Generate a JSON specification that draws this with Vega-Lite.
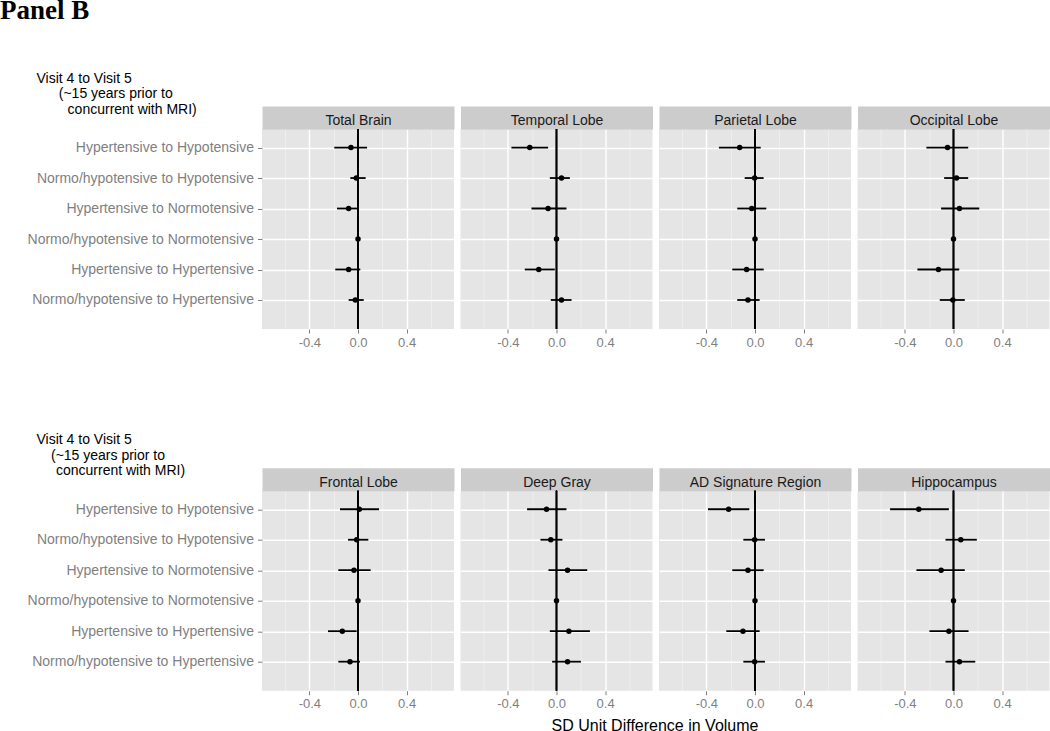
{
  "$schema": "https://vega.github.io/schema/vega-lite/v6.json",
  "background": "#ffffff",
  "padding": {"left": 0, "top": -4, "right": 0, "bottom": 0},
  "title": {"text": "Panel B", "anchor": "start", "frame": "group", "dx": -262, "offset": 25.3, "baseline": "alphabetic", "font": "Liberation Serif", "fontSize": 27, "fontWeight": "bold", "color": "#000000"},
  "config": {
    "font": "Liberation Sans",
    "view": {"fill": "#e5e5e5", "stroke": null},
    "axis": {"labelFont": "Liberation Sans", "titleFont": "Liberation Sans"}
  },
  "datasets": {
    "d": [
      {"region": "Total Brain", "row": "Hypertensive to Hypotensive", "est": -0.058, "lo": -0.195, "hi": 0.074},
      {"region": "Total Brain", "row": "Normo/hypotensive to Hypotensive", "est": -0.014, "lo": -0.063, "hi": 0.063},
      {"region": "Total Brain", "row": "Hypertensive to Normotensive", "est": -0.077, "lo": -0.173, "hi": 0.003},
      {"region": "Total Brain", "row": "Normo/hypotensive to Normotensive", "est": 0, "lo": null, "hi": null},
      {"region": "Total Brain", "row": "Hypertensive to Hypertensive", "est": -0.077, "lo": -0.187, "hi": 0.019},
      {"region": "Total Brain", "row": "Normo/hypotensive to Hypertensive", "est": -0.022, "lo": -0.077, "hi": 0.047},
      {"region": "Temporal Lobe", "row": "Hypertensive to Hypotensive", "est": -0.22, "lo": -0.371, "hi": -0.069},
      {"region": "Temporal Lobe", "row": "Normo/hypotensive to Hypotensive", "est": 0.041, "lo": -0.055, "hi": 0.11},
      {"region": "Temporal Lobe", "row": "Hypertensive to Normotensive", "est": -0.069, "lo": -0.206, "hi": 0.082},
      {"region": "Temporal Lobe", "row": "Normo/hypotensive to Normotensive", "est": 0, "lo": null, "hi": null},
      {"region": "Temporal Lobe", "row": "Hypertensive to Hypertensive", "est": -0.146, "lo": -0.261, "hi": -0.014},
      {"region": "Temporal Lobe", "row": "Normo/hypotensive to Hypertensive", "est": 0.041, "lo": -0.047, "hi": 0.124},
      {"region": "Parietal Lobe", "row": "Hypertensive to Hypotensive", "est": -0.126, "lo": -0.297, "hi": 0.047},
      {"region": "Parietal Lobe", "row": "Normo/hypotensive to Hypotensive", "est": -0.003, "lo": -0.085, "hi": 0.071},
      {"region": "Parietal Lobe", "row": "Hypertensive to Normotensive", "est": -0.027, "lo": -0.146, "hi": 0.093},
      {"region": "Parietal Lobe", "row": "Normo/hypotensive to Normotensive", "est": 0, "lo": null, "hi": null},
      {"region": "Parietal Lobe", "row": "Hypertensive to Hypertensive", "est": -0.069, "lo": -0.187, "hi": 0.071},
      {"region": "Parietal Lobe", "row": "Normo/hypotensive to Hypertensive", "est": -0.058, "lo": -0.146, "hi": 0.038},
      {"region": "Occipital Lobe", "row": "Hypertensive to Hypotensive", "est": -0.049, "lo": -0.223, "hi": 0.121},
      {"region": "Occipital Lobe", "row": "Normo/hypotensive to Hypotensive", "est": 0.025, "lo": -0.077, "hi": 0.121},
      {"region": "Occipital Lobe", "row": "Hypertensive to Normotensive", "est": 0.049, "lo": -0.102, "hi": 0.212},
      {"region": "Occipital Lobe", "row": "Normo/hypotensive to Normotensive", "est": 0, "lo": null, "hi": null},
      {"region": "Occipital Lobe", "row": "Hypertensive to Hypertensive", "est": -0.124, "lo": -0.297, "hi": 0.047},
      {"region": "Occipital Lobe", "row": "Normo/hypotensive to Hypertensive", "est": -0.005, "lo": -0.113, "hi": 0.093},
      {"region": "Frontal Lobe", "row": "Hypertensive to Hypotensive", "est": 0.011, "lo": -0.148, "hi": 0.173},
      {"region": "Frontal Lobe", "row": "Normo/hypotensive to Hypotensive", "est": -0.011, "lo": -0.082, "hi": 0.085},
      {"region": "Frontal Lobe", "row": "Hypertensive to Normotensive", "est": -0.033, "lo": -0.162, "hi": 0.104},
      {"region": "Frontal Lobe", "row": "Normo/hypotensive to Normotensive", "est": 0, "lo": null, "hi": null},
      {"region": "Frontal Lobe", "row": "Hypertensive to Hypertensive", "est": -0.129, "lo": -0.247, "hi": -0.011},
      {"region": "Frontal Lobe", "row": "Normo/hypotensive to Hypertensive", "est": -0.066, "lo": -0.162, "hi": 0.016},
      {"region": "Deep Gray", "row": "Hypertensive to Hypotensive", "est": -0.082, "lo": -0.242, "hi": 0.082},
      {"region": "Deep Gray", "row": "Normo/hypotensive to Hypotensive", "est": -0.047, "lo": -0.132, "hi": 0.049},
      {"region": "Deep Gray", "row": "Hypertensive to Normotensive", "est": 0.091, "lo": -0.066, "hi": 0.253},
      {"region": "Deep Gray", "row": "Normo/hypotensive to Normotensive", "est": 0, "lo": null, "hi": null},
      {"region": "Deep Gray", "row": "Hypertensive to Hypertensive", "est": 0.102, "lo": -0.055, "hi": 0.275},
      {"region": "Deep Gray", "row": "Normo/hypotensive to Hypertensive", "est": 0.091, "lo": -0.036, "hi": 0.201},
      {"region": "AD Signature Region", "row": "Hypertensive to Hypotensive", "est": -0.217, "lo": -0.387, "hi": -0.047},
      {"region": "AD Signature Region", "row": "Normo/hypotensive to Hypotensive", "est": -0.003, "lo": -0.096, "hi": 0.082},
      {"region": "AD Signature Region", "row": "Hypertensive to Normotensive", "est": -0.058, "lo": -0.187, "hi": 0.071},
      {"region": "AD Signature Region", "row": "Normo/hypotensive to Normotensive", "est": 0, "lo": null, "hi": null},
      {"region": "AD Signature Region", "row": "Hypertensive to Hypertensive", "est": -0.099, "lo": -0.236, "hi": 0.038},
      {"region": "AD Signature Region", "row": "Normo/hypotensive to Hypertensive", "est": -0.003, "lo": -0.096, "hi": 0.082},
      {"region": "Hippocampus", "row": "Hypertensive to Hypotensive", "est": -0.286, "lo": -0.522, "hi": -0.038},
      {"region": "Hippocampus", "row": "Normo/hypotensive to Hypotensive", "est": 0.06, "lo": -0.066, "hi": 0.192},
      {"region": "Hippocampus", "row": "Hypertensive to Normotensive", "est": -0.102, "lo": -0.305, "hi": 0.093},
      {"region": "Hippocampus", "row": "Normo/hypotensive to Normotensive", "est": 0, "lo": null, "hi": null},
      {"region": "Hippocampus", "row": "Hypertensive to Hypertensive", "est": -0.038, "lo": -0.198, "hi": 0.124},
      {"region": "Hippocampus", "row": "Normo/hypotensive to Hypertensive", "est": 0.049, "lo": -0.066, "hi": 0.179}
    ]
  },
  "bounds": "flush",
  "spacing": 361.7,
  "vconcat": [
    {
      "bounds": "flush",
      "spacing": 6.5,
      "hconcat": [
        {
          "width": 192, "height": 200, "data": {"name": "d"},
          "transform": [{"filter": "datum.region == 'Total Brain'"}],
          "resolve": {"axis": {"x": "independent"}},
          "layer": [
            {"mark": {"type": "rule", "color": "#000000", "strokeWidth": 1.8},
             "encoding": {
               "y": {"field": "row", "type": "nominal", "scale": {"type": "point", "domain": ["Hypertensive to Hypotensive", "Normo/hypotensive to Hypotensive", "Hypertensive to Normotensive", "Normo/hypotensive to Normotensive", "Hypertensive to Hypertensive", "Normo/hypotensive to Hypertensive"], "padding": 0.78, "align": 0.39},
                     "axis": {"title": ["Visit 4 to Visit 5", "\u200b\u00a0\u00a0\u00a0\u00a0\u00a0\u2009(~15 years prior to", "\u200b\u00a0\u00a0\u00a0\u00a0\u00a0\u00a0\u00a0\u00a0concurrent with MRI)"], "titleAngle": 0, "titleAlign": "left", "titleBaseline": "top", "titleX": -226, "titleY": -58, "titleFontSize": 14, "titleFontWeight": "normal", "titleColor": "#000000", "titleLineHeight": 15.5, "grid": true, "gridColor": "#ffffff", "gridWidth": 1.4, "domain": false, "tickColor": "#7f7f7f", "tickSize": 4.5, "labelColor": "#7f7f7f", "labelFontSize": 14, "labelPadding": 4, "labelLimit": 0}},
               "x": {"field": "lo", "type": "quantitative", "scale": {"domain": [-0.79, 0.79], "nice": false, "zero": false},
                     "axis": {"orient": "bottom", "values": [-0.6, -0.4, -0.2, 0, 0.2, 0.4, 0.6], "labelExpr": "abs(round(datum.value*10)) % 4 == 0 ? (datum.value < 0 ? '-' : '') + format(abs(datum.value), '.1f') : ''", "grid": true, "gridColor": {"condition": {"test": "abs(round(datum.value*10)) % 4 == 0", "value": "#ffffff"}, "value": "#f2f2f2"}, "gridWidth": {"condition": {"test": "abs(round(datum.value*10)) % 4 == 0", "value": 1.4}, "value": 0.7}, "tickColor": {"condition": {"test": "abs(round(datum.value*10)) % 4 == 0", "value": "#7f7f7f"}, "value": "rgba(0,0,0,0)"}, "tickSize": 4, "domain": false, "title": null, "labelColor": "#7f7f7f", "labelFontSize": 13, "labelPadding": 3}},
               "x2": {"field": "hi"}}},
            {"mark": {"type": "circle", "color": "#000000", "size": 30, "opacity": 1},
             "encoding": {
               "y": {"field": "row", "type": "nominal"},
               "x": {"field": "est", "type": "quantitative", "axis": {"orient": "top", "title": "Total Brain", "domain": true, "domainColor": "#cccccc", "domainWidth": 23, "offset": 11.5, "ticks": false, "labels": false, "grid": false, "titleY": 6.8, "titleBaseline": "alphabetic", "titleFontSize": 14, "titleFontWeight": "normal", "titleColor": "#1a1a1a"}}}},
            {"mark": {"type": "rule", "color": "#000000", "strokeWidth": 1.3},
             "encoding": {"x": {"datum": 0, "type": "quantitative", "axis": null}}}
          ]
        },
        {
          "width": 192, "height": 200, "data": {"name": "d"},
          "transform": [{"filter": "datum.region == 'Temporal Lobe'"}],
          "resolve": {"axis": {"x": "independent"}},
          "layer": [
            {"mark": {"type": "rule", "color": "#000000", "strokeWidth": 1.8},
             "encoding": {
               "y": {"field": "row", "type": "nominal", "scale": {"type": "point", "domain": ["Hypertensive to Hypotensive", "Normo/hypotensive to Hypotensive", "Hypertensive to Normotensive", "Normo/hypotensive to Normotensive", "Hypertensive to Hypertensive", "Normo/hypotensive to Hypertensive"], "padding": 0.78, "align": 0.39},
                     "axis": {"title": null, "labels": false, "ticks": false, "domain": false, "grid": true, "gridColor": "#ffffff", "gridWidth": 1.4}},
               "x": {"field": "lo", "type": "quantitative", "scale": {"domain": [-0.79, 0.79], "nice": false, "zero": false},
                     "axis": {"orient": "bottom", "values": [-0.6, -0.4, -0.2, 0, 0.2, 0.4, 0.6], "labelExpr": "abs(round(datum.value*10)) % 4 == 0 ? (datum.value < 0 ? '-' : '') + format(abs(datum.value), '.1f') : ''", "grid": true, "gridColor": {"condition": {"test": "abs(round(datum.value*10)) % 4 == 0", "value": "#ffffff"}, "value": "#f2f2f2"}, "gridWidth": {"condition": {"test": "abs(round(datum.value*10)) % 4 == 0", "value": 1.4}, "value": 0.7}, "tickColor": {"condition": {"test": "abs(round(datum.value*10)) % 4 == 0", "value": "#7f7f7f"}, "value": "rgba(0,0,0,0)"}, "tickSize": 4, "domain": false, "title": null, "labelColor": "#7f7f7f", "labelFontSize": 13, "labelPadding": 3}},
               "x2": {"field": "hi"}}},
            {"mark": {"type": "circle", "color": "#000000", "size": 30, "opacity": 1},
             "encoding": {
               "y": {"field": "row", "type": "nominal"},
               "x": {"field": "est", "type": "quantitative", "axis": {"orient": "top", "title": "Temporal Lobe", "domain": true, "domainColor": "#cccccc", "domainWidth": 23, "offset": 11.5, "ticks": false, "labels": false, "grid": false, "titleY": 6.8, "titleBaseline": "alphabetic", "titleFontSize": 14, "titleFontWeight": "normal", "titleColor": "#1a1a1a"}}}},
            {"mark": {"type": "rule", "color": "#000000", "strokeWidth": 1.3},
             "encoding": {"x": {"datum": 0, "type": "quantitative", "axis": null}}}
          ]
        },
        {
          "width": 192, "height": 200, "data": {"name": "d"},
          "transform": [{"filter": "datum.region == 'Parietal Lobe'"}],
          "resolve": {"axis": {"x": "independent"}},
          "layer": [
            {"mark": {"type": "rule", "color": "#000000", "strokeWidth": 1.8},
             "encoding": {
               "y": {"field": "row", "type": "nominal", "scale": {"type": "point", "domain": ["Hypertensive to Hypotensive", "Normo/hypotensive to Hypotensive", "Hypertensive to Normotensive", "Normo/hypotensive to Normotensive", "Hypertensive to Hypertensive", "Normo/hypotensive to Hypertensive"], "padding": 0.78, "align": 0.39},
                     "axis": {"title": null, "labels": false, "ticks": false, "domain": false, "grid": true, "gridColor": "#ffffff", "gridWidth": 1.4}},
               "x": {"field": "lo", "type": "quantitative", "scale": {"domain": [-0.79, 0.79], "nice": false, "zero": false},
                     "axis": {"orient": "bottom", "values": [-0.6, -0.4, -0.2, 0, 0.2, 0.4, 0.6], "labelExpr": "abs(round(datum.value*10)) % 4 == 0 ? (datum.value < 0 ? '-' : '') + format(abs(datum.value), '.1f') : ''", "grid": true, "gridColor": {"condition": {"test": "abs(round(datum.value*10)) % 4 == 0", "value": "#ffffff"}, "value": "#f2f2f2"}, "gridWidth": {"condition": {"test": "abs(round(datum.value*10)) % 4 == 0", "value": 1.4}, "value": 0.7}, "tickColor": {"condition": {"test": "abs(round(datum.value*10)) % 4 == 0", "value": "#7f7f7f"}, "value": "rgba(0,0,0,0)"}, "tickSize": 4, "domain": false, "title": null, "labelColor": "#7f7f7f", "labelFontSize": 13, "labelPadding": 3}},
               "x2": {"field": "hi"}}},
            {"mark": {"type": "circle", "color": "#000000", "size": 30, "opacity": 1},
             "encoding": {
               "y": {"field": "row", "type": "nominal"},
               "x": {"field": "est", "type": "quantitative", "axis": {"orient": "top", "title": "Parietal Lobe", "domain": true, "domainColor": "#cccccc", "domainWidth": 23, "offset": 11.5, "ticks": false, "labels": false, "grid": false, "titleY": 6.8, "titleBaseline": "alphabetic", "titleFontSize": 14, "titleFontWeight": "normal", "titleColor": "#1a1a1a"}}}},
            {"mark": {"type": "rule", "color": "#000000", "strokeWidth": 1.3},
             "encoding": {"x": {"datum": 0, "type": "quantitative", "axis": null}}}
          ]
        },
        {
          "width": 192, "height": 200, "data": {"name": "d"},
          "transform": [{"filter": "datum.region == 'Occipital Lobe'"}],
          "resolve": {"axis": {"x": "independent"}},
          "layer": [
            {"mark": {"type": "rule", "color": "#000000", "strokeWidth": 1.8},
             "encoding": {
               "y": {"field": "row", "type": "nominal", "scale": {"type": "point", "domain": ["Hypertensive to Hypotensive", "Normo/hypotensive to Hypotensive", "Hypertensive to Normotensive", "Normo/hypotensive to Normotensive", "Hypertensive to Hypertensive", "Normo/hypotensive to Hypertensive"], "padding": 0.78, "align": 0.39},
                     "axis": {"title": null, "labels": false, "ticks": false, "domain": false, "grid": true, "gridColor": "#ffffff", "gridWidth": 1.4}},
               "x": {"field": "lo", "type": "quantitative", "scale": {"domain": [-0.79, 0.79], "nice": false, "zero": false},
                     "axis": {"orient": "bottom", "values": [-0.6, -0.4, -0.2, 0, 0.2, 0.4, 0.6], "labelExpr": "abs(round(datum.value*10)) % 4 == 0 ? (datum.value < 0 ? '-' : '') + format(abs(datum.value), '.1f') : ''", "grid": true, "gridColor": {"condition": {"test": "abs(round(datum.value*10)) % 4 == 0", "value": "#ffffff"}, "value": "#f2f2f2"}, "gridWidth": {"condition": {"test": "abs(round(datum.value*10)) % 4 == 0", "value": 1.4}, "value": 0.7}, "tickColor": {"condition": {"test": "abs(round(datum.value*10)) % 4 == 0", "value": "#7f7f7f"}, "value": "rgba(0,0,0,0)"}, "tickSize": 4, "domain": false, "title": null, "labelColor": "#7f7f7f", "labelFontSize": 13, "labelPadding": 3}},
               "x2": {"field": "hi"}}},
            {"mark": {"type": "circle", "color": "#000000", "size": 30, "opacity": 1},
             "encoding": {
               "y": {"field": "row", "type": "nominal"},
               "x": {"field": "est", "type": "quantitative", "axis": {"orient": "top", "title": "Occipital Lobe", "domain": true, "domainColor": "#cccccc", "domainWidth": 23, "offset": 11.5, "ticks": false, "labels": false, "grid": false, "titleY": 6.8, "titleBaseline": "alphabetic", "titleFontSize": 14, "titleFontWeight": "normal", "titleColor": "#1a1a1a"}}}},
            {"mark": {"type": "rule", "color": "#000000", "strokeWidth": 1.3},
             "encoding": {"x": {"datum": 0, "type": "quantitative", "axis": null}}}
          ]
        }
      ]
    },
    {
      "bounds": "flush",
      "spacing": 6.5,
      "hconcat": [
        {
          "width": 192, "height": 200, "data": {"name": "d"},
          "transform": [{"filter": "datum.region == 'Frontal Lobe'"}],
          "resolve": {"axis": {"x": "independent"}},
          "layer": [
            {"mark": {"type": "rule", "color": "#000000", "strokeWidth": 1.8},
             "encoding": {
               "y": {"field": "row", "type": "nominal", "scale": {"type": "point", "domain": ["Hypertensive to Hypotensive", "Normo/hypotensive to Hypotensive", "Hypertensive to Normotensive", "Normo/hypotensive to Normotensive", "Hypertensive to Hypertensive", "Normo/hypotensive to Hypertensive"], "padding": 0.78, "align": 0.39},
                     "axis": {"title": ["Visit 4 to Visit 5", "\u200b\u00a0\u00a0\u00a0\u2009(~15 years prior to", "\u200b\u00a0\u00a0\u00a0\u00a0\u00a0concurrent with MRI)"], "titleAngle": 0, "titleAlign": "left", "titleBaseline": "top", "titleX": -226, "titleY": -58, "titleFontSize": 14, "titleFontWeight": "normal", "titleColor": "#000000", "titleLineHeight": 15.5, "grid": true, "gridColor": "#ffffff", "gridWidth": 1.4, "domain": false, "tickColor": "#7f7f7f", "tickSize": 4.5, "labelColor": "#7f7f7f", "labelFontSize": 14, "labelPadding": 4, "labelLimit": 0}},
               "x": {"field": "lo", "type": "quantitative", "scale": {"domain": [-0.79, 0.79], "nice": false, "zero": false},
                     "axis": {"orient": "bottom", "values": [-0.6, -0.4, -0.2, 0, 0.2, 0.4, 0.6], "labelExpr": "abs(round(datum.value*10)) % 4 == 0 ? (datum.value < 0 ? '-' : '') + format(abs(datum.value), '.1f') : ''", "grid": true, "gridColor": {"condition": {"test": "abs(round(datum.value*10)) % 4 == 0", "value": "#ffffff"}, "value": "#f2f2f2"}, "gridWidth": {"condition": {"test": "abs(round(datum.value*10)) % 4 == 0", "value": 1.4}, "value": 0.7}, "tickColor": {"condition": {"test": "abs(round(datum.value*10)) % 4 == 0", "value": "#7f7f7f"}, "value": "rgba(0,0,0,0)"}, "tickSize": 4, "domain": false, "title": null, "labelColor": "#7f7f7f", "labelFontSize": 13, "labelPadding": 3}},
               "x2": {"field": "hi"}}},
            {"mark": {"type": "circle", "color": "#000000", "size": 30, "opacity": 1},
             "encoding": {
               "y": {"field": "row", "type": "nominal"},
               "x": {"field": "est", "type": "quantitative", "axis": {"orient": "top", "title": "Frontal Lobe", "domain": true, "domainColor": "#cccccc", "domainWidth": 23, "offset": 11.5, "ticks": false, "labels": false, "grid": false, "titleY": 6.8, "titleBaseline": "alphabetic", "titleFontSize": 14, "titleFontWeight": "normal", "titleColor": "#1a1a1a"}}}},
            {"mark": {"type": "rule", "color": "#000000", "strokeWidth": 1.3},
             "encoding": {"x": {"datum": 0, "type": "quantitative", "axis": null}}}
          ]
        },
        {
          "width": 192, "height": 200, "data": {"name": "d"},
          "transform": [{"filter": "datum.region == 'Deep Gray'"}],
          "resolve": {"axis": {"x": "independent"}},
          "layer": [
            {"mark": {"type": "rule", "color": "#000000", "strokeWidth": 1.8},
             "encoding": {
               "y": {"field": "row", "type": "nominal", "scale": {"type": "point", "domain": ["Hypertensive to Hypotensive", "Normo/hypotensive to Hypotensive", "Hypertensive to Normotensive", "Normo/hypotensive to Normotensive", "Hypertensive to Hypertensive", "Normo/hypotensive to Hypertensive"], "padding": 0.78, "align": 0.39},
                     "axis": {"title": null, "labels": false, "ticks": false, "domain": false, "grid": true, "gridColor": "#ffffff", "gridWidth": 1.4}},
               "x": {"field": "lo", "type": "quantitative", "scale": {"domain": [-0.79, 0.79], "nice": false, "zero": false},
                     "axis": {"orient": "bottom", "values": [-0.6, -0.4, -0.2, 0, 0.2, 0.4, 0.6], "labelExpr": "abs(round(datum.value*10)) % 4 == 0 ? (datum.value < 0 ? '-' : '') + format(abs(datum.value), '.1f') : ''", "grid": true, "gridColor": {"condition": {"test": "abs(round(datum.value*10)) % 4 == 0", "value": "#ffffff"}, "value": "#f2f2f2"}, "gridWidth": {"condition": {"test": "abs(round(datum.value*10)) % 4 == 0", "value": 1.4}, "value": 0.7}, "tickColor": {"condition": {"test": "abs(round(datum.value*10)) % 4 == 0", "value": "#7f7f7f"}, "value": "rgba(0,0,0,0)"}, "tickSize": 4, "domain": false, "labelColor": "#7f7f7f", "labelFontSize": 13, "labelPadding": 3,
                              "title": "SD Unit Difference in Volume", "titleX": 194, "titleY": 39.8, "titleAlign": "center", "titleBaseline": "alphabetic", "titleFontSize": 16, "titleFontWeight": "normal", "titleColor": "#000000"}},
               "x2": {"field": "hi"}}},
            {"mark": {"type": "circle", "color": "#000000", "size": 30, "opacity": 1},
             "encoding": {
               "y": {"field": "row", "type": "nominal"},
               "x": {"field": "est", "type": "quantitative", "axis": {"orient": "top", "title": "Deep Gray", "domain": true, "domainColor": "#cccccc", "domainWidth": 23, "offset": 11.5, "ticks": false, "labels": false, "grid": false, "titleY": 6.8, "titleBaseline": "alphabetic", "titleFontSize": 14, "titleFontWeight": "normal", "titleColor": "#1a1a1a"}}}},
            {"mark": {"type": "rule", "color": "#000000", "strokeWidth": 1.3},
             "encoding": {"x": {"datum": 0, "type": "quantitative", "axis": null}}}
          ]
        },
        {
          "width": 192, "height": 200, "data": {"name": "d"},
          "transform": [{"filter": "datum.region == 'AD Signature Region'"}],
          "resolve": {"axis": {"x": "independent"}},
          "layer": [
            {"mark": {"type": "rule", "color": "#000000", "strokeWidth": 1.8},
             "encoding": {
               "y": {"field": "row", "type": "nominal", "scale": {"type": "point", "domain": ["Hypertensive to Hypotensive", "Normo/hypotensive to Hypotensive", "Hypertensive to Normotensive", "Normo/hypotensive to Normotensive", "Hypertensive to Hypertensive", "Normo/hypotensive to Hypertensive"], "padding": 0.78, "align": 0.39},
                     "axis": {"title": null, "labels": false, "ticks": false, "domain": false, "grid": true, "gridColor": "#ffffff", "gridWidth": 1.4}},
               "x": {"field": "lo", "type": "quantitative", "scale": {"domain": [-0.79, 0.79], "nice": false, "zero": false},
                     "axis": {"orient": "bottom", "values": [-0.6, -0.4, -0.2, 0, 0.2, 0.4, 0.6], "labelExpr": "abs(round(datum.value*10)) % 4 == 0 ? (datum.value < 0 ? '-' : '') + format(abs(datum.value), '.1f') : ''", "grid": true, "gridColor": {"condition": {"test": "abs(round(datum.value*10)) % 4 == 0", "value": "#ffffff"}, "value": "#f2f2f2"}, "gridWidth": {"condition": {"test": "abs(round(datum.value*10)) % 4 == 0", "value": 1.4}, "value": 0.7}, "tickColor": {"condition": {"test": "abs(round(datum.value*10)) % 4 == 0", "value": "#7f7f7f"}, "value": "rgba(0,0,0,0)"}, "tickSize": 4, "domain": false, "title": null, "labelColor": "#7f7f7f", "labelFontSize": 13, "labelPadding": 3}},
               "x2": {"field": "hi"}}},
            {"mark": {"type": "circle", "color": "#000000", "size": 30, "opacity": 1},
             "encoding": {
               "y": {"field": "row", "type": "nominal"},
               "x": {"field": "est", "type": "quantitative", "axis": {"orient": "top", "title": "AD Signature Region", "domain": true, "domainColor": "#cccccc", "domainWidth": 23, "offset": 11.5, "ticks": false, "labels": false, "grid": false, "titleY": 6.8, "titleBaseline": "alphabetic", "titleFontSize": 14, "titleFontWeight": "normal", "titleColor": "#1a1a1a"}}}},
            {"mark": {"type": "rule", "color": "#000000", "strokeWidth": 1.3},
             "encoding": {"x": {"datum": 0, "type": "quantitative", "axis": null}}}
          ]
        },
        {
          "width": 192, "height": 200, "data": {"name": "d"},
          "transform": [{"filter": "datum.region == 'Hippocampus'"}],
          "resolve": {"axis": {"x": "independent"}},
          "layer": [
            {"mark": {"type": "rule", "color": "#000000", "strokeWidth": 1.8},
             "encoding": {
               "y": {"field": "row", "type": "nominal", "scale": {"type": "point", "domain": ["Hypertensive to Hypotensive", "Normo/hypotensive to Hypotensive", "Hypertensive to Normotensive", "Normo/hypotensive to Normotensive", "Hypertensive to Hypertensive", "Normo/hypotensive to Hypertensive"], "padding": 0.78, "align": 0.39},
                     "axis": {"title": null, "labels": false, "ticks": false, "domain": false, "grid": true, "gridColor": "#ffffff", "gridWidth": 1.4}},
               "x": {"field": "lo", "type": "quantitative", "scale": {"domain": [-0.79, 0.79], "nice": false, "zero": false},
                     "axis": {"orient": "bottom", "values": [-0.6, -0.4, -0.2, 0, 0.2, 0.4, 0.6], "labelExpr": "abs(round(datum.value*10)) % 4 == 0 ? (datum.value < 0 ? '-' : '') + format(abs(datum.value), '.1f') : ''", "grid": true, "gridColor": {"condition": {"test": "abs(round(datum.value*10)) % 4 == 0", "value": "#ffffff"}, "value": "#f2f2f2"}, "gridWidth": {"condition": {"test": "abs(round(datum.value*10)) % 4 == 0", "value": 1.4}, "value": 0.7}, "tickColor": {"condition": {"test": "abs(round(datum.value*10)) % 4 == 0", "value": "#7f7f7f"}, "value": "rgba(0,0,0,0)"}, "tickSize": 4, "domain": false, "title": null, "labelColor": "#7f7f7f", "labelFontSize": 13, "labelPadding": 3}},
               "x2": {"field": "hi"}}},
            {"mark": {"type": "circle", "color": "#000000", "size": 30, "opacity": 1},
             "encoding": {
               "y": {"field": "row", "type": "nominal"},
               "x": {"field": "est", "type": "quantitative", "axis": {"orient": "top", "title": "Hippocampus", "domain": true, "domainColor": "#cccccc", "domainWidth": 23, "offset": 11.5, "ticks": false, "labels": false, "grid": false, "titleY": 6.8, "titleBaseline": "alphabetic", "titleFontSize": 14, "titleFontWeight": "normal", "titleColor": "#1a1a1a"}}}},
            {"mark": {"type": "rule", "color": "#000000", "strokeWidth": 1.3},
             "encoding": {"x": {"datum": 0, "type": "quantitative", "axis": null}}}
          ]
        }
      ]
    }
  ]
}
